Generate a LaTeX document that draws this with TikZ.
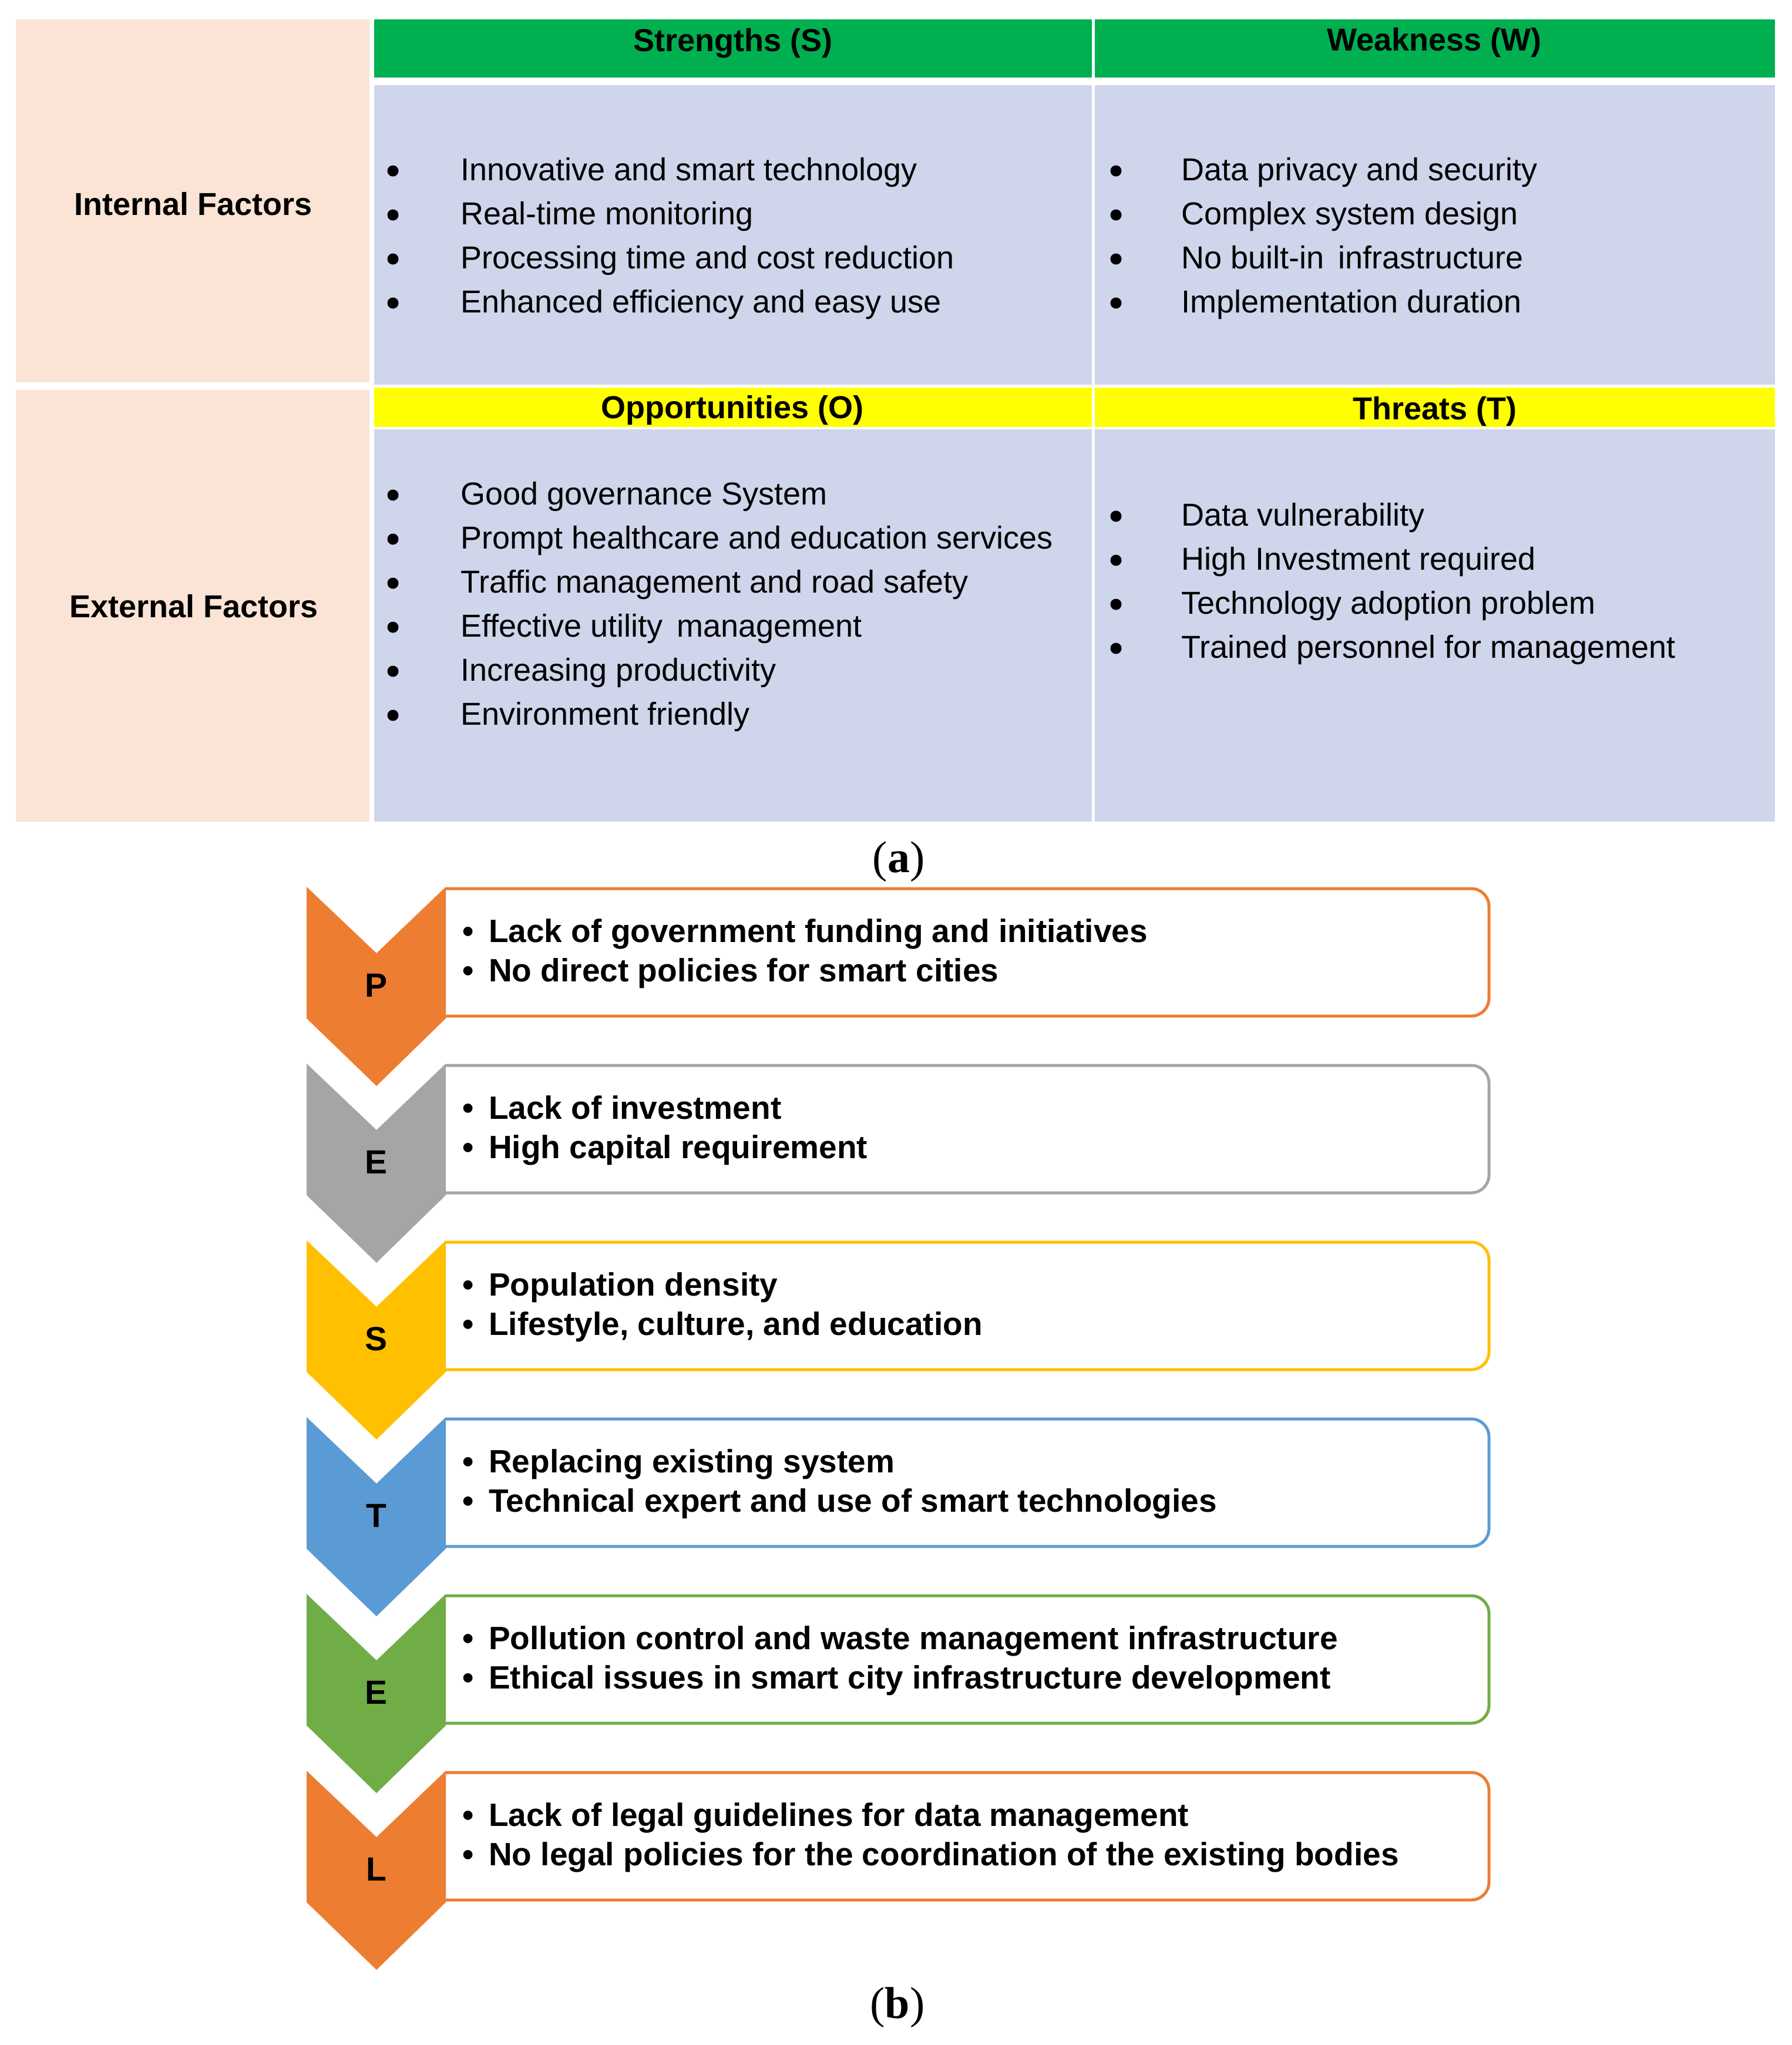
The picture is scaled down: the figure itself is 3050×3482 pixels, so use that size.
\documentclass[tikz,border=0pt]{standalone}
\usepackage{fontspec}
\setmainfont{Liberation Sans}
\newfontfamily\capserif{Liberation Serif}
\definecolor{peachc}{HTML}{FBE4D5}
\definecolor{cellb}{HTML}{CFD5EA}
\definecolor{hgreen}{HTML}{00B050}
\definecolor{hyellow}{HTML}{FFFF00}
\definecolor{corange}{HTML}{ED7D31}
\definecolor{cgrey}{HTML}{A5A5A5}
\definecolor{cgold}{HTML}{FFC000}
\definecolor{cblue}{HTML}{5B9BD5}
\definecolor{cgreen}{HTML}{70AD47}
\tikzset{
  cell/.style={rectangle, inner sep=0pt, outer sep=0pt, draw=none},
  sidelab/.style={inner sep=0pt, font=\bfseries\fontsize{54}{60}\selectfont},
  hdr/.style={anchor=base, inner sep=0pt, font=\bfseries\fontsize{54}{60}\selectfont},
  itemtxt/.style={anchor=base west, inner sep=0pt, font=\fontsize{54}{60}\selectfont},
  bigdot/.style={circle, fill=black, inner sep=0pt, minimum size=19pt},
  ptext/.style={anchor=base west, inner sep=0pt, font=\bfseries\fontsize{55}{60}\selectfont},
  pbul/.style={anchor=base, inner sep=0pt, font=\bfseries\fontsize{55}{60}\selectfont},
  letter/.style={inner sep=0pt, font=\bfseries\fontsize{57}{60}\selectfont},
  caplab/.style={inner sep=0pt, font=\capserif\fontsize{76}{80}\selectfont},
}
% name, bullet x, text x, baseline, text
\newcommand\aitem[5]{%
  \node[bigdot] (d#1) at (#2,#4-16) {};
  \node[itemtxt] (t#1) at (#3,#4) {#5};}
% index, colour, letter, line1, line2, name
\newcommand\pestrow[6]{%
  \pgfmathsetmacro\bt{1513+301*#1}%
  \fill[#2] (522,\bt-3) -- (641,\bt+110) -- (759,\bt-3) -- (759,\bt+221) -- (641,\bt+336) -- (522,\bt+221) -- cycle;
  \draw[#2, line width=5pt, rounded corners=30pt] (759,\bt) -- (2535,\bt) -- (2535,\bt+217) -- (759,\bt+217);
  \node[letter] (chev#6) at (641,\bt+165) {#3};
  \node[pbul] (ba#6) at (797,\bt+91) {\textbullet};
  \node[ptext] (ta#6) at (832,\bt+91) {#4};
  \node[pbul] (bb#6) at (797,\bt+158) {\textbullet};
  \node[ptext] (tb#6) at (832,\bt+158) {#5};}
\begin{document}
\begin{tikzpicture}[x=1pt,y=-1pt]
\useasboundingbox (0,0) rectangle (3050,3482);
\fill[white] (0,0) rectangle (3050,3482);
% ---------- (a) SWOT table ----------
\node[cell, fill=peachc, minimum width=602pt, minimum height=618pt] (pint) at (328,342) {};
\node[cell, fill=peachc, minimum width=602pt, minimum height=735pt] (pext) at (328,1031.5) {};
\node[cell, fill=hgreen, minimum width=1222pt, minimum height=99pt] (gS) at (1248,82.5) {};
\node[cell, fill=hgreen, minimum width=1158pt, minimum height=99pt] (gW) at (2443,82.5) {};
\node[cell, fill=cellb, minimum width=1222pt, minimum height=510pt] (bS) at (1248,400) {};
\node[cell, fill=cellb, minimum width=1158pt, minimum height=510pt] (bW) at (2443,400) {};
\node[cell, fill=hyellow, minimum width=1222pt, minimum height=67pt] (yO) at (1248,693.5) {};
\node[cell, fill=hyellow, minimum width=1158pt, minimum height=67pt] (yT) at (2443,693.5) {};
\node[cell, fill=cellb, minimum width=1222pt, minimum height=668pt] (bO) at (1248,1065) {};
\node[cell, fill=cellb, minimum width=1158pt, minimum height=668pt] (bT) at (2443,1065) {};

\node[sidelab] (lint) at (329,347) {Internal Factors};
\node[sidelab] (lext) at (330,1032) {External Factors};
\node[hdr] (hS) at (1248,87) {Strengths (S)};
\node[hdr] (hW) at (2442,86) {Weakness (W)};
\node[hdr] (hO) at (1247,712) {Opportunities (O)};
\node[hdr] (hT) at (2443,714) {Threats (T)};

\aitem{s1}{669}{784}{307}{Innovative and smart technology}
\aitem{s2}{669}{784}{382}{Real-time monitoring}
\aitem{s3}{669}{784}{457}{Processing time and cost reduction}
\aitem{s4}{669}{784}{532}{Enhanced efficiency and easy use}

\aitem{w1}{1900}{2011}{307}{Data privacy and security}
\aitem{w2}{1900}{2011}{382}{Complex system design}
\aitem{w3}{1900}{2011}{457}{No built-in\, infrastructure}
\aitem{w4}{1900}{2011}{532}{Implementation duration}

\aitem{o1}{669}{784}{859}{Good governance System}
\aitem{o2}{669}{784}{934}{Prompt healthcare and education services}
\aitem{o3}{669}{784}{1009}{Traffic management and road safety}
\aitem{o4}{669}{784}{1084}{Effective utility\, management}
\aitem{o5}{669}{784}{1159}{Increasing productivity}
\aitem{o6}{669}{784}{1234}{Environment friendly}

\aitem{x1}{1900}{2011}{895}{Data vulnerability}
\aitem{x2}{1900}{2011}{970}{High Investment required}
\aitem{x3}{1900}{2011}{1045}{Technology adoption problem}
\aitem{x4}{1900}{2011}{1120}{Trained personnel for management}

\node[caplab] (capa) at (1530,1467) {(\textbf{a})};

% ---------- (b) PESTEL chevrons ----------
\pestrow{0}{corange}{P}{Lack of government funding and initiatives}{No direct policies for smart cities}{p}
\pestrow{1}{cgrey}{E}{Lack of investment}{High capital requirement}{e}
\pestrow{2}{cgold}{S}{Population density}{Lifestyle, culture, and education}{s}
\pestrow{3}{cblue}{T}{Replacing existing system}{Technical expert and use of smart technologies}{t}
\pestrow{4}{cgreen}{E}{Pollution control and waste management infrastructure}{Ethical issues in smart city infrastructure development}{en}
\pestrow{5}{corange}{L}{Lack of legal guidelines for data management}{No legal policies for the coordination of the existing bodies}{l}

\node[caplab] (capb) at (1528,3418) {(\textbf{b})};
\end{tikzpicture}
\end{document}
